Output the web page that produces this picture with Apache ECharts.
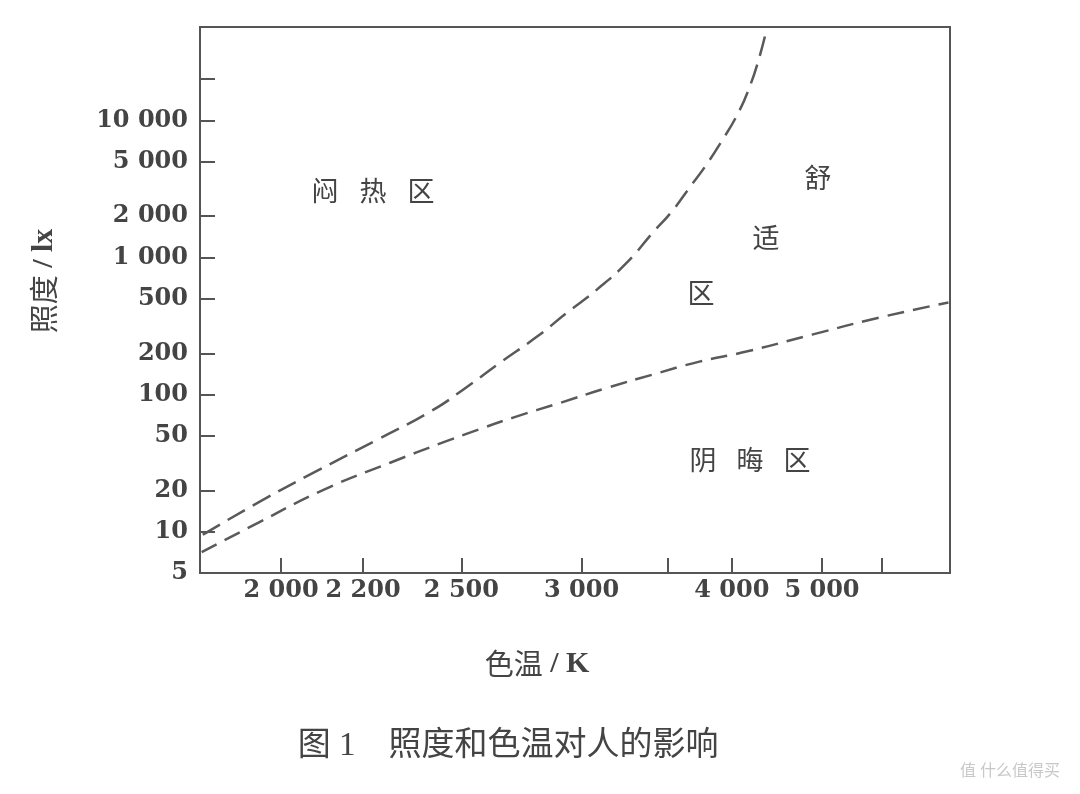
<!DOCTYPE html>
<html>
<head>
<meta charset="utf-8">
<script src="https://cdn.jsdelivr.net/npm/echarts@6/dist/echarts.min.js"></script>
<style>
html,body{margin:0;padding:0;background:#fff;}
#chart{width:1080px;height:794px;}
</style>
</head>
<body>
<div id="chart"></div>
<script>
// Colour temperature (K) tick marks and labels (x axis is a reciprocal-temperature scale)
const xTickTemps = [2000, 2200, 2500, 3000, 3500, 4000, 5000, 6000];
const xLabelTemps = [2000, 2200, 2500, 3000, 4000, 5000];
// Illuminance (lx) tick marks and labels (log scale)
const yTickLux = [5, 10, 20, 50, 100, 200, 500, 1000, 2000, 5000, 10000, 20000];
const yLabelLux = [5, 10, 20, 50, 100, 200, 500, 1000, 2000, 5000, 10000];

// Upper boundary (hot / oppressive zone vs comfortable zone)
const upperTemp = [1840, 1950, 2085, 2240, 2400, 2507, 2642, 2793, 2929, 3078, 3244, 3403, 3529, 3656, 3786, 3909, 4049, 4161, 4259, 4340];
const upperLux  = [9.5, 16.3, 28, 47, 76, 109, 171, 265, 396, 583, 917, 1518, 2160, 3230, 4750, 7000, 11000, 17300, 28700, 48000];

// Lower boundary (comfortable zone vs gloomy zone)
const lowerTemp = [1838, 1950, 2100, 2277, 2440, 2532, 2693, 2896, 3132, 3403, 3731, 4132, 4866, 5935, 7700];
const lowerLux  = [7.1, 11.6, 20.3, 32, 45, 53, 68, 87, 112, 140, 174, 206, 274, 364, 470];

const toMired = t => 1e6 / t;
const fmtNum = n => n >= 1000 ? Math.floor(n / 1000) + ' ' + String(n % 1000).padStart(3, '0') : String(n);

const numFont = "'DejaVu Serif', 'Liberation Serif', serif";
const cjkFont = "'Liberation Serif', 'Noto Sans CJK SC', serif";
const ink = '#444';
const lineInk = '#5a5a5a';

const chart = echarts.init(document.getElementById('chart'));

function charText(ch, x, y, size) {
  return {
    type: 'text', x: x, y: y,
    style: { text: ch, font: 'normal ' + size + 'px ' + cjkFont, fill: ink, align: 'center', verticalAlign: 'middle' }
  };
}

const titleRich = {
  c: { fontFamily: "'Noto Sans CJK SC'", fontSize: 29, color: ink },
  l: { fontFamily: "'Liberation Serif'", fontSize: 30, fontWeight: 'bold', color: ink }
};

chart.setOption({
  backgroundColor: '#fff',
  animation: false,
  grid: { left: 200, right: 130, top: 27, bottom: 221, show: true, borderColor: '#555', borderWidth: 2, backgroundColor: 'transparent' },
  xAxis: {
    type: 'value', min: 129, max: 545, inverse: true,
    axisLine: { show: true, lineStyle: { color: '#555', width: 2 } },
    axisTick: { show: true, inside: true, length: 15, lineStyle: { color: '#555', width: 2 }, customValues: xTickTemps.map(toMired) },
    axisLabel: {
      customValues: xLabelTemps.map(toMired),
      formatter: v => fmtNum(Math.round(1e6 / v / 100) * 100),
      fontFamily: numFont, fontWeight: 'bold', fontSize: 24, color: ink, margin: 6
    },
    splitLine: { show: false }
  },
  yAxis: {
    type: 'log', logBase: 10, min: 5, max: 48000,
    axisLine: { show: true, lineStyle: { color: '#555', width: 2 } },
    axisTick: { show: true, inside: true, length: 15, lineStyle: { color: '#555', width: 2 }, customValues: yTickLux },
    axisLabel: {
      customValues: yLabelLux,
      formatter: v => fmtNum(Math.round(v)),
      fontFamily: numFont, fontWeight: 'bold', fontSize: 24, color: ink, margin: 12
    },
    splitLine: { show: false }
  },
  series: [
    {
      type: 'line', name: 'upper', smooth: 0.5, showSymbol: false, clip: true,
      lineStyle: { color: lineInk, width: 2.5, type: [20, 9] },
      data: upperTemp.map((t, i) => [toMired(t), upperLux[i]])
    },
    {
      type: 'line', name: 'lower', smooth: 0.5, showSymbol: false, clip: true,
      lineStyle: { color: lineInk, width: 2.5, type: [17, 9] },
      data: lowerTemp.map((t, i) => [toMired(t), lowerLux[i]])
    }
  ],
  graphic: [
    // zone labels
    charText('闷', 325, 194, 27), charText('热', 373, 194, 27), charText('区', 421, 194, 27),
    charText('舒', 818, 181, 27), charText('适', 766, 241, 27), charText('区', 701, 296, 27),
    charText('阴', 703, 463, 27), charText('晦', 750, 463, 27), charText('区', 797, 463, 27),
    // axis titles
    {
      type: 'text', x: 537, y: 664,
      style: { text: '{c|色温}{l| / K}', rich: titleRich, align: 'center', verticalAlign: 'middle', fill: ink }
    },
    {
      type: 'text', x: 44, y: 281, rotation: Math.PI / 2,
      style: { text: '{c|照度}{l| / lx}', rich: titleRich, align: 'center', verticalAlign: 'middle', fill: ink }
    },
    // caption
    {
      type: 'text', x: 508, y: 746,
      style: { text: '图 1    照度和色温对人的影响', font: 'normal 33px ' + cjkFont, fill: ink, align: 'center', verticalAlign: 'middle' }
    },
    // watermark
    {
      type: 'text', x: 1010, y: 772,
      style: { text: '值 什么值得买', font: 'normal 16px ' + cjkFont, fill: '#c8c8c8', align: 'center', verticalAlign: 'middle' }
    }
  ]
});
</script>
</body>
</html>
